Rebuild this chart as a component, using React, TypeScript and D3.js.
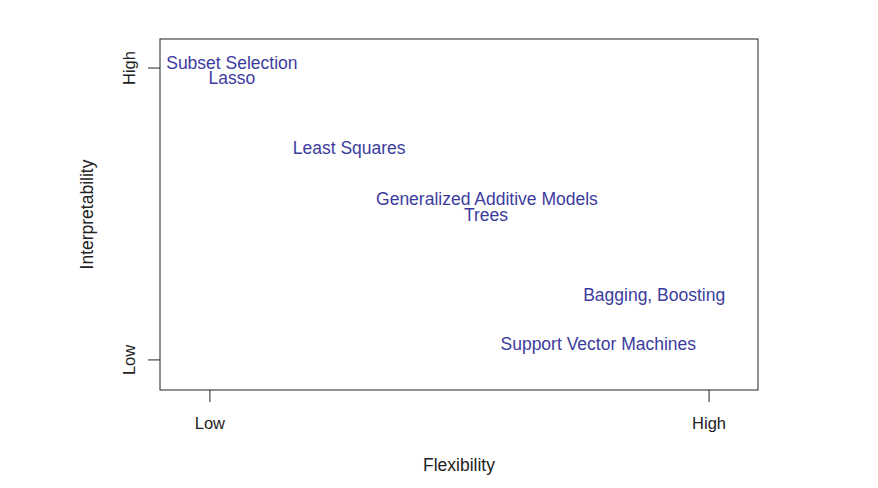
import React from "react";
import * as d3 from "d3";

// methods placed on the flexibility / interpretability plane (0 = Low, 1 = High)
const methods = [
  "Subset Selection",
  "Lasso",
  "Least Squares",
  "Generalized Additive Models",
  "Trees",
  "Bagging, Boosting",
  "Support Vector Machines",
];
const flexibility = [0.044, 0.044, 0.279, 0.555, 0.553, 0.89, 0.778];
const interpretability = [1.02, 0.966, 0.726, 0.551, 0.497, 0.223, 0.055];

const tickValues = [0, 1];
const tickLabels = ["Low", "High"];

export default function App() {
  const width = 878, height = 488;
  const left = 160, right = 758, top = 39, bottom = 390;

  const x = d3.scaleLinear().domain([-0.1, 1.098]).range([left, right]);
  const y = d3.scaleLinear().domain([-0.103, 1.0995]).range([bottom, top]);

  const font = "'Liberation Sans', Arial, Helvetica, sans-serif";
  const ink = "#222";
  const blue = "#3c3c9e";

  return (
    <svg
      width={width}
      height={height}
      style={{ position: "absolute", left: 0, top: 0, background: "#fff" }}
      fontFamily={font}
    >
      {/* descender of a caption cut off above the page */}
      <text x={757} y={-10} fontSize={17.5} fill={ink} textAnchor="middle">g</text>

      <rect x={left} y={top} width={right - left} height={bottom - top}
        fill="none" stroke={ink} strokeWidth={1} />

      {tickValues.map((v, i) => (
        <g key={"x" + i}>
          <line x1={x(v)} x2={x(v)} y1={bottom} y2={bottom + 12} stroke={ink} />
          <text x={x(v)} y={429} fontSize={16.5} fill={ink} textAnchor="middle">
            {tickLabels[i]}
          </text>
        </g>
      ))}
      {tickValues.map((v, i) => (
        <g key={"y" + i}>
          <line x1={left} x2={left - 12} y1={y(v)} y2={y(v)} stroke={ink} />
          <text transform={`translate(135,${y(v)}) rotate(-90)`} fontSize={16.5}
            fill={ink} textAnchor="middle">
            {tickLabels[i]}
          </text>
        </g>
      ))}

      <text x={(left + right) / 2} y={471} fontSize={17.5} fill={ink} textAnchor="middle">
        Flexibility
      </text>
      <text transform={`translate(93,${(top + bottom) / 2}) rotate(-90)`} fontSize={17.5}
        fill={ink} textAnchor="middle">
        Interpretability
      </text>

      {methods.map((m, i) => (
        <text key={m} x={x(flexibility[i])} y={y(interpretability[i])} dy="0.36em"
          fontSize={17.5} fill={blue} textAnchor="middle">
          {m}
        </text>
      ))}
    </svg>
  );
}
